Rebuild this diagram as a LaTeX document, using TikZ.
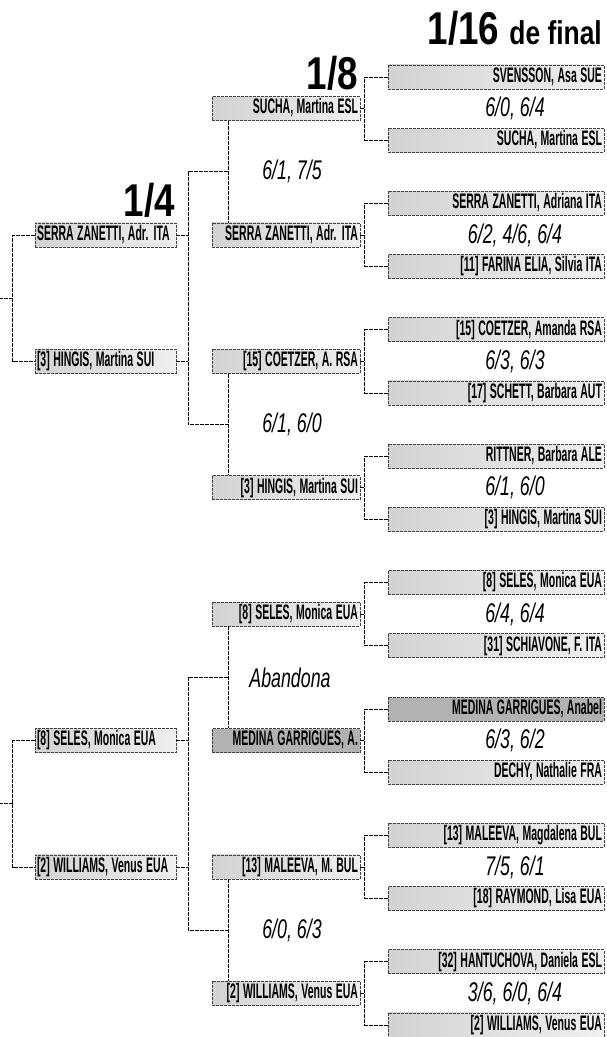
\documentclass[tikz,border=0pt]{standalone}
\usepackage{fontspec}
\setmainfont{Liberation Sans}
\newfontfamily\scorefont{Liberation Sans}[FakeStretch=0.66]
\newfontfamily\roundfont{Liberation Sans}[FakeStretch=0.8]
\usepackage{graphicx}
\usepackage{tikz}
\usetikzlibrary{positioning,calc}
\newcommand{\nm}[1]{\scalebox{0.5}[1]{#1}}

\begin{document}
\begin{tikzpicture}[x=1pt,y=1pt,
  player/.style={draw=black!75,dash pattern=on 3pt off 1pt,line width=0.6pt,
                 left color=#1,right color=gray!12,minimum height=24pt,
                 inner xsep=2pt,inner ysep=2.25pt,text height=15pt,text depth=4.5pt,
                 font=\bfseries\fontsize{21}{21}\selectfont},
  dark/.style={draw=black!75,dash pattern=on 3pt off 1pt,line width=0.6pt,
               fill=gray!60,minimum height=24pt,
               inner xsep=2pt,inner ysep=2.25pt,text height=15pt,text depth=4.5pt,
               font=\bfseries\fontsize{21}{21}\selectfont},
  r16/.style={text width=212pt,align=right},
  r8/.style={text width=144pt,align=right},
  r4/.style={text width=137pt,align=left},
  link/.style={dash pattern=on 4pt off 1pt,line width=0.9pt},
  score/.style={font=\scorefont\itshape\fontsize{27}{27}\selectfont,inner sep=0pt},
  round/.style={font=\roundfont\bfseries\fontsize{46}{46}\selectfont,inner sep=0pt,anchor=base east}
]
\useasboundingbox (0,0) rectangle (606,1037);

% 1/16 de final
\node[player=gray!35,r16] (d1) at (496,960) {\nm{SVENSSON, Asa SUE}};
\node[player=gray!35,r16,below=38.6pt of d1] (d2) {\nm{SUCHA, Martina ESL}};
\node[player=gray!35,r16,below=38.6pt of d2] (d3) {\nm{SERRA ZANETTI, Adriana ITA}};
\node[player=gray!35,r16,below=38.6pt of d3] (d4) {\nm{[11] FARINA ELIA, Silvia ITA}};
\node[player=gray!35,r16,below=38.6pt of d4] (d5) {\nm{[15] COETZER, Amanda RSA}};
\node[player=gray!35,r16,below=38.6pt of d5] (d6) {\nm{[17] SCHETT, Barbara AUT}};
\node[player=gray!35,r16,below=38.6pt of d6] (d7) {\nm{RITTNER, Barbara ALE}};
\node[player=gray!35,r16,below=38.6pt of d7] (d8) {\nm{[3] HINGIS, Martina SUI}};
\node[player=gray!35,r16,below=38.6pt of d8] (d9) {\nm{[8] SELES, Monica EUA}};
\node[player=gray!35,r16,below=38.6pt of d9] (d10) {\nm{[31] SCHIAVONE, F. ITA}};
\node[dark,r16,below=38.6pt of d10] (d11) {\nm{MEDINA GARRIGUES, Anabel}};
\node[player=gray!35,r16,below=38.6pt of d11] (d12) {\nm{DECHY, Nathalie FRA}};
\node[player=gray!35,r16,below=38.6pt of d12] (d13) {\nm{[13] MALEEVA, Magdalena BUL}};
\node[player=gray!35,r16,below=38.6pt of d13] (d14) {\nm{[18] RAYMOND, Lisa EUA}};
\node[player=gray!35,r16,below=38.6pt of d14] (d15) {\nm{[32] HANTUCHOVA, Daniela ESL}};
\node[player=gray!35,r16,below=38.6pt of d15] (d16) {\nm{[2] WILLIAMS, Venus EUA}};

\node[score] (s1) at ($(d1)!.5!(d2)+(19,0)$) {6/0, 6/4};
\node[score] (s2) at ($(d3)!.5!(d4)+(19,0)$) {6/2, 4/6, 6/4};
\node[score] (s3) at ($(d5)!.5!(d6)+(19,0)$) {6/3, 6/3};
\node[score] (s4) at ($(d7)!.5!(d8)+(19,0)$) {6/1, 6/0};
\node[score] (s5) at ($(d9)!.5!(d10)+(19,0)$) {6/4, 6/4};
\node[score] (s6) at ($(d11)!.5!(d12)+(19,0)$) {6/3, 6/2};
\node[score] (s7) at ($(d13)!.5!(d14)+(19,0)$) {7/5, 6/1};
\node[score] (s8) at ($(d15)!.5!(d16)+(19,0)$) {3/6, 6/0, 6/4};

% 1/8
\node[player=gray!35,r8] (o1) at ($(d1)!.5!(d2)+(-210,0)$) {\nm{SUCHA, Martina ESL}};
\node[player=gray!35,r8] (o2) at ($(d3)!.5!(d4)+(-210,0)$) {\nm{SERRA ZANETTI, Adr. ITA}};
\node[player=gray!35,r8] (o3) at ($(d5)!.5!(d6)+(-210,0)$) {\nm{[15] COETZER, A. RSA}};
\node[player=gray!35,r8] (o4) at ($(d7)!.5!(d8)+(-210,0)$) {\nm{[3] HINGIS, Martina SUI}};
\node[player=gray!35,r8] (o5) at ($(d9)!.5!(d10)+(-210,0)$) {\nm{[8] SELES, Monica EUA}};
\node[dark,r8] (o6) at ($(d11)!.5!(d12)+(-210,0)$) {\nm{MEDINA GARRIGUES, A.}};
\node[player=gray!35,r8] (o7) at ($(d13)!.5!(d14)+(-210,0)$) {\nm{[13] MALEEVA, M. BUL}};
\node[player=gray!35,r8] (o8) at ($(d15)!.5!(d16)+(-210,0)$) {\nm{[2] WILLIAMS, Venus EUA}};

\coordinate (j1) at ($(o1)!.5!(o2)+(-58,0)$);
\coordinate (j2) at ($(o3)!.5!(o4)+(-58,0)$);
\coordinate (j3) at ($(o5)!.5!(o6)+(-58,0)$);
\coordinate (j4) at ($(o7)!.5!(o8)+(-58,0)$);

\node[score] (t1) at ($(j1)+(64,0)$) {6/1, 7/5};
\node[score] (t2) at ($(j2)+(64,0)$) {6/1, 6/0};
\node[score] (t3) at ($(j3)+(62,0)$) {Abandona};
\node[score] (t4) at ($(j4)+(64,0)$) {6/0, 6/3};

% 1/4
\node[player=gray!35,r4] (c1) at ($(o2)+(-180.5,0)$) {\nm{SERRA ZANETTI, Adr. ITA}};
\node[player=gray!35,r4] (c2) at ($(o3)+(-180.5,0)$) {\nm{[3] HINGIS, Martina SUI}};
\node[player=gray!35,r4] (c3) at ($(o6)+(-180.5,0)$) {\nm{[8] SELES, Monica EUA}};
\node[player=gray!35,r4] (c4) at ($(o7)+(-180.5,0)$) {\nm{[2] WILLIAMS, Venus EUA}};

% round titles
\node[round] (h16) at (602,992) {1/16 {\fontsize{33}{33}\selectfont de final}};
\node[round] (h8) at (358,947) {1/8};
\node[round] (h4) at (175,820) {1/4};

% brackets 1/16 -> 1/8
\draw[link] (d1.west) -- ++(-23,0) |- (d2.west);
\draw[link] (d3.west) -- ++(-23,0) |- (d4.west);
\draw[link] (d5.west) -- ++(-23,0) |- (d6.west);
\draw[link] (d7.west) -- ++(-23,0) |- (d8.west);
\draw[link] (d9.west) -- ++(-23,0) |- (d10.west);
\draw[link] (d11.west) -- ++(-23,0) |- (d12.west);
\draw[link] (d13.west) -- ++(-23,0) |- (d14.west);
\draw[link] (d15.west) -- ++(-23,0) |- (d16.west);
\draw[link] (o1.east) -- ++(5,0);
\draw[link] (o2.east) -- ++(5,0);
\draw[link] (o3.east) -- ++(5,0);
\draw[link] (o4.east) -- ++(5,0);
\draw[link] (o5.east) -- ++(5,0);
\draw[link] (o6.east) -- ++(5,0);
\draw[link] (o7.east) -- ++(5,0);
\draw[link] (o8.east) -- ++(5,0);

% brackets 1/8 -> 1/4
\draw[link] (o1.south -| j1) -- (o2.north -| j1);
\draw[link] (o3.south -| j2) -- (o4.north -| j2);
\draw[link] (o5.south -| j3) -- (o6.north -| j3);
\draw[link] (o7.south -| j4) -- (o8.north -| j4);
\draw[link] (j1) -- ++(-40,0) coordinate (b1) |- (j2);
\draw[link] (j3) -- ++(-40,0) coordinate (b2) |- (j4);
\draw[link] (c1.east) -- (c1.east -| b1);
\draw[link] (c2.east) -- (c2.east -| b1);
\draw[link] (c3.east) -- (c3.east -| b2);
\draw[link] (c4.east) -- (c4.east -| b2);

% brackets 1/4 -> semifinal
\draw[link] (c1.west) -- ++(-22,0) |- (c2.west);
\draw[link] (c3.west) -- ++(-22,0) |- (c4.west);
\coordinate (f1) at ($(c1.west)!.5!(c2.west)+(-22,0)$);
\coordinate (f2) at ($(c3.west)!.5!(c4.west)+(-22,0)$);
\draw[link] (f1) -- ++(-13,0) coordinate (e1);
\draw[link] (f2) -- ++(-13,0) coordinate (e2);
\end{tikzpicture}
\end{document}
